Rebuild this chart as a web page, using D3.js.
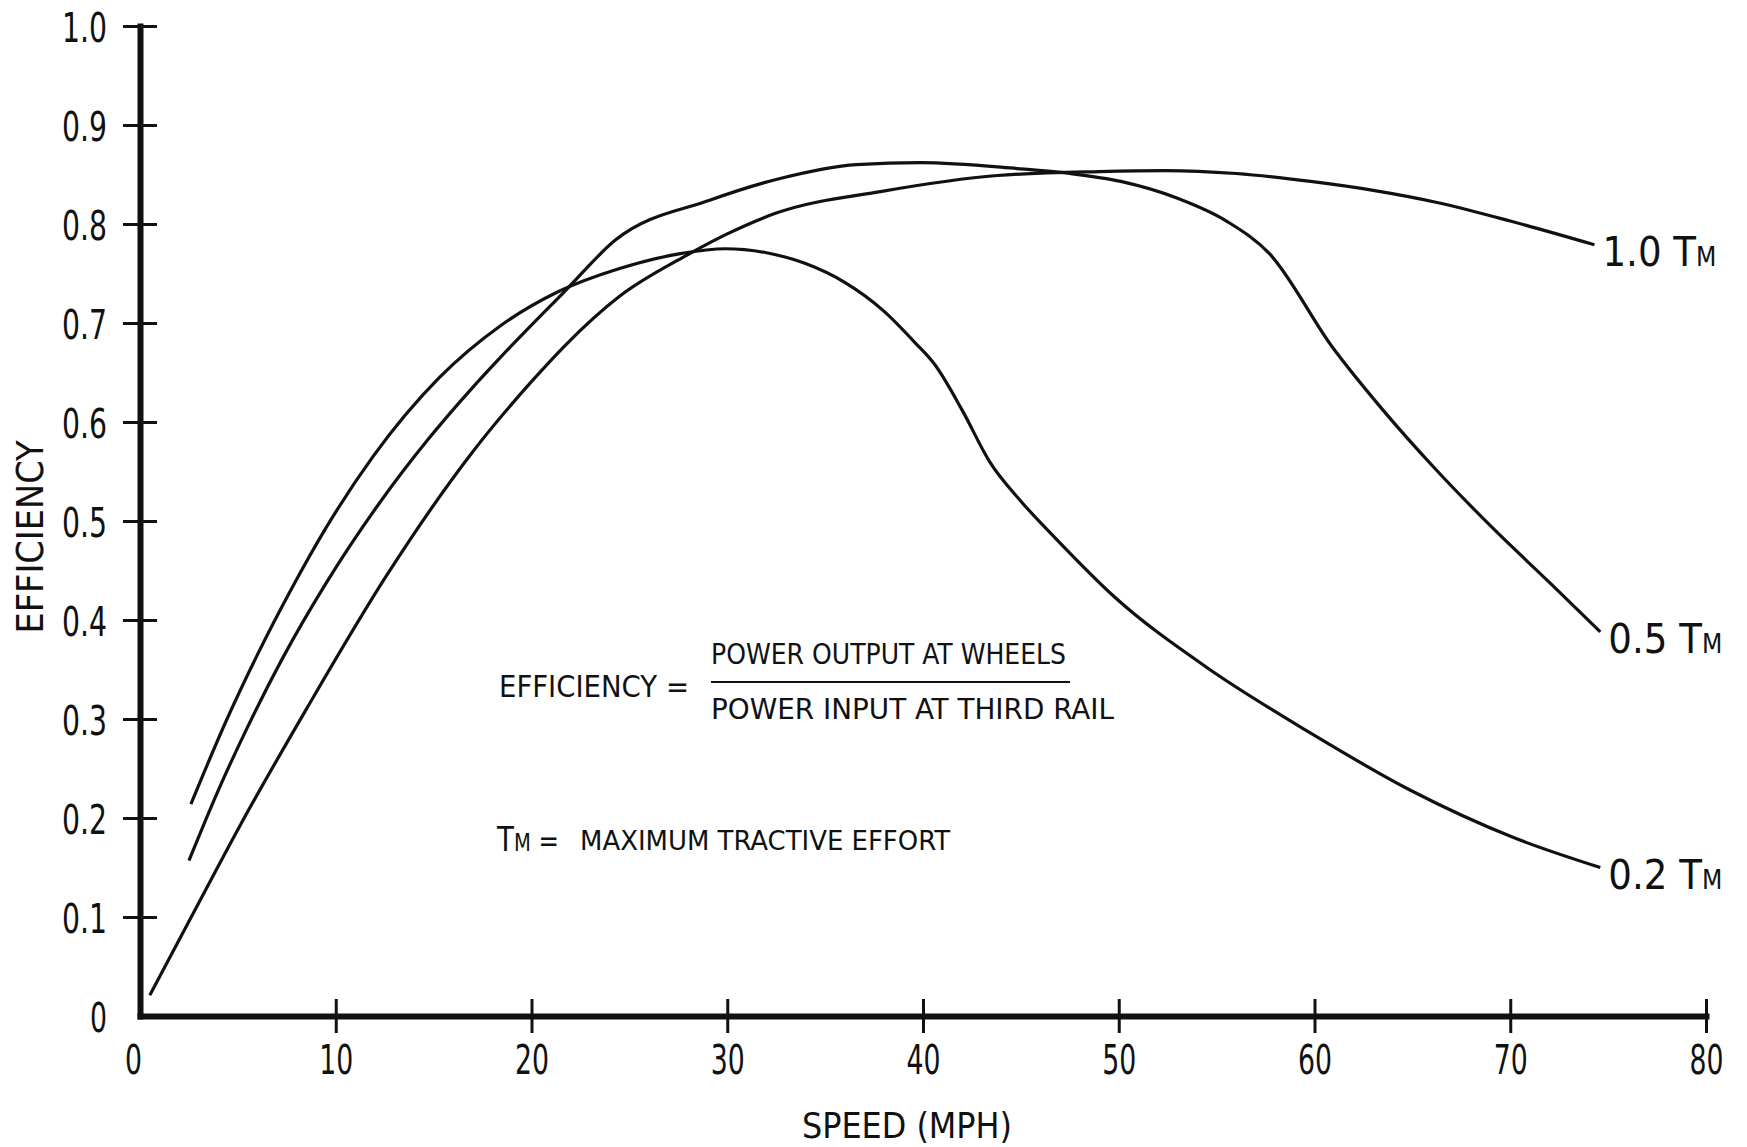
<!DOCTYPE html>
<html>
<head>
<meta charset="utf-8">
<script src="https://cdn.jsdelivr.net/npm/d3@7"></script>
<style>
  html, body { margin: 0; padding: 0; background: #fff; }
  svg { display: block; }
  text { font-family: "DejaVu Sans Condensed", "DejaVu Sans", sans-serif; fill: #111; }
</style>
</head>
<body>
<svg id="chart" width="1747" height="1147"></svg>
<script>
// speed (mph), efficiency
const SERIES_NAMES = ['1.0', '0.5', '0.2'];

const tm10 = [
  [0.5, 0.021], [2.7, 0.103], [5.1, 0.192], [8.5, 0.310], [12.6, 0.445],
  [17.0, 0.570], [20.1, 0.643], [21.7, 0.677], [24.5, 0.727], [27.8, 0.767],
  [30.0, 0.790], [32.5, 0.811], [37.9, 0.833], [43.8, 0.849], [49.0, 0.853],
  [52.4, 0.854], [56.0, 0.851], [59.8, 0.843], [63.0, 0.834], [66.2, 0.822],
  [70.0, 0.803], [74.3, 0.779]
];
const tm05 = [
  [2.5, 0.157], [4.0, 0.228], [5.5, 0.292], [7.3, 0.362], [9.5, 0.437],
  [12.3, 0.520], [14.7, 0.582], [17.0, 0.635], [18.4, 0.665], [21.7, 0.732],
  [24.3, 0.784], [29.1, 0.824], [32.7, 0.846], [36.6, 0.860], [39.9, 0.862],
  [44.8, 0.856], [47.5, 0.851], [50.1, 0.843], [53.0, 0.826], [55.5, 0.803],
  [57.7, 0.770], [60.9, 0.676], [63.5, 0.612], [66.2, 0.552], [69.1, 0.493],
  [72.0, 0.438], [74.6, 0.388]
];
const tm02 = [
  [2.6, 0.214], [4.4, 0.298], [6.0, 0.365], [7.7, 0.430], [9.5, 0.493],
  [11.9, 0.565], [15.3, 0.645], [18.4, 0.697], [21.3, 0.731], [24.5, 0.755],
  [27.6, 0.770], [29.9, 0.775], [32.0, 0.771], [34.0, 0.760], [36.0, 0.741],
  [38.0, 0.712], [39.6, 0.680], [40.6, 0.658], [42.0, 0.612], [43.4, 0.560],
  [45.0, 0.520], [46.7, 0.484], [49.8, 0.423], [54.5, 0.352], [59.7, 0.287],
  [64.9, 0.228], [70.2, 0.180], [74.6, 0.150]
];

const xTicks = [0, 10, 20, 30, 40, 50, 60, 70, 80];
const yTicks = [0, 0.1, 0.2, 0.3, 0.4, 0.5, 0.6, 0.7, 0.8, 0.9, 1.0];

const svg = d3.select('#chart');
const INK = '#111';

const x = d3.scaleLinear().domain([0, 80]).range([140, 1706]);
const y = d3.scaleLinear().domain([0, 1]).range([1016, 26]);

// narrow the condensed face so it reads like the typewriter lettering
const narrow = (sel, w) => sel.attr('textLength', w).attr('lengthAdjust', 'spacingAndGlyphs');
const labelWidth = s => s.split('').reduce((a, c) => a + (c === '.' ? 11 : 17), 0);

// ── Curves ────────────────────────────────────────────────────────────────
const line = d3.line()
  .x(d => x(d[0]))
  .y(d => y(d[1]))
  .curve(d3.curveMonotoneX);

const curves = [tm10, tm05, tm02];
svg.append('g').selectAll('path')
  .data(curves)
  .join('path')
  .attr('d', line)
  .attr('fill', 'none')
  .attr('stroke', INK)
  .attr('stroke-width', 3.2)
  .attr('stroke-linejoin', 'round');

// curve labels "x.x TM" at the end of each curve
curves.forEach((c, i) => {
  const last = c[c.length - 1];
  const t = svg.append('text')
    .attr('x', x(last[0]) + 8)
    .attr('y', y(last[1]) + 21)
    .attr('font-size', 41);
  t.append('tspan').text(SERIES_NAMES[i] + ' T');
  t.append('tspan').attr('font-size', 26).text('M');
  narrow(t, 114);
});

// ── Axes ──────────────────────────────────────────────────────────────────
const yAxisL = svg.append('g')
  .attr('transform', `translate(${x(0)},0)`)
  .call(d3.axisLeft(y).tickValues(yTicks).tickSizeInner(17).tickSizeOuter(0)
    .tickPadding(16).tickFormat(d => d === 0 ? '0' : d.toFixed(1)));
const yAxisR = svg.append('g')
  .attr('transform', `translate(${x(0)},0)`)
  .call(d3.axisRight(y).tickValues(yTicks.slice(1)).tickSizeInner(17).tickSizeOuter(0)
    .tickFormat(''));

const xAxisB = svg.append('g')
  .attr('transform', `translate(0,${y(0)})`)
  .call(d3.axisBottom(x).tickValues(xTicks).tickSizeInner(17).tickSizeOuter(0)
    .tickFormat(d3.format('d')));
const xAxisT = svg.append('g')
  .attr('transform', `translate(0,${y(0)})`)
  .call(d3.axisTop(x).tickValues(xTicks.slice(1)).tickSizeInner(17).tickSizeOuter(0)
    .tickFormat(''));

[yAxisL, yAxisR, xAxisB, xAxisT].forEach(g => {
  g.selectAll('.domain').attr('stroke', INK).attr('stroke-width', 6)
    .attr('stroke-linecap', 'square');
  g.selectAll('.tick line').attr('stroke', INK).attr('stroke-width', 3);
});
yAxisR.select('.domain').remove();
xAxisT.select('.domain').remove();
xAxisB.selectAll('.tick').filter(d => d === 0).select('line').remove();
yAxisL.selectAll('.tick').filter(d => d === 0).select('line').remove();

yAxisL.selectAll('text')
  .attr('font-family', null).attr('font-size', 41)
  .attr('fill', INK).attr('dy', 0).attr('y', 15)
  .each(function () { narrow(d3.select(this), labelWidth(this.textContent)); });
xAxisB.selectAll('text')
  .attr('font-family', null).attr('font-size', 41)
  .attr('fill', INK).attr('dy', 0).attr('y', 58)
  .each(function () { narrow(d3.select(this), labelWidth(this.textContent)); });
// the origin "0" sits a little left of the corner
xAxisB.selectAll('.tick').filter(d => d === 0).select('text').attr('x', -7);

// axis titles
svg.append('text')
  .attr('x', 907).attr('y', 1138)
  .attr('text-anchor', 'middle')
  .attr('font-size', 35)
  .call(narrow, 210)
  .text('SPEED (MPH)');

svg.append('text')
  .attr('transform', 'translate(43,537) rotate(-90)')
  .attr('text-anchor', 'middle')
  .attr('font-size', 37)
  .call(narrow, 193)
  .text('EFFICIENCY');

// ── Annotations ───────────────────────────────────────────────────────────
const note = svg.append('g');
note.append('text')
  .attr('x', 499).attr('y', 697)
  .attr('font-size', 30)
  .call(narrow, 190)
  .text('EFFICIENCY =');
note.append('text')
  .attr('x', 711).attr('y', 664)
  .attr('font-size', 28)
  .call(narrow, 355)
  .text('POWER OUTPUT AT WHEELS');
note.append('line')
  .attr('x1', 711).attr('x2', 1070)
  .attr('y1', 682).attr('y2', 682)
  .attr('stroke', INK).attr('stroke-width', 2);
note.append('text')
  .attr('x', 711).attr('y', 719)
  .attr('font-size', 28)
  .call(narrow, 403)
  .text('POWER INPUT AT THIRD RAIL');

const tmText = note.append('text').attr('x', 497).attr('y', 851);
tmText.append('tspan').attr('font-size', 34).text('T');
tmText.append('tspan').attr('font-size', 24).text('M');
tmText.append('tspan').attr('font-size', 30).text(' =');
narrow(tmText, 62);
note.append('text')
  .attr('x', 580).attr('y', 850)
  .attr('font-size', 27)
  .call(narrow, 370)
  .text('MAXIMUM TRACTIVE EFFORT');
</script>
</body>
</html>
